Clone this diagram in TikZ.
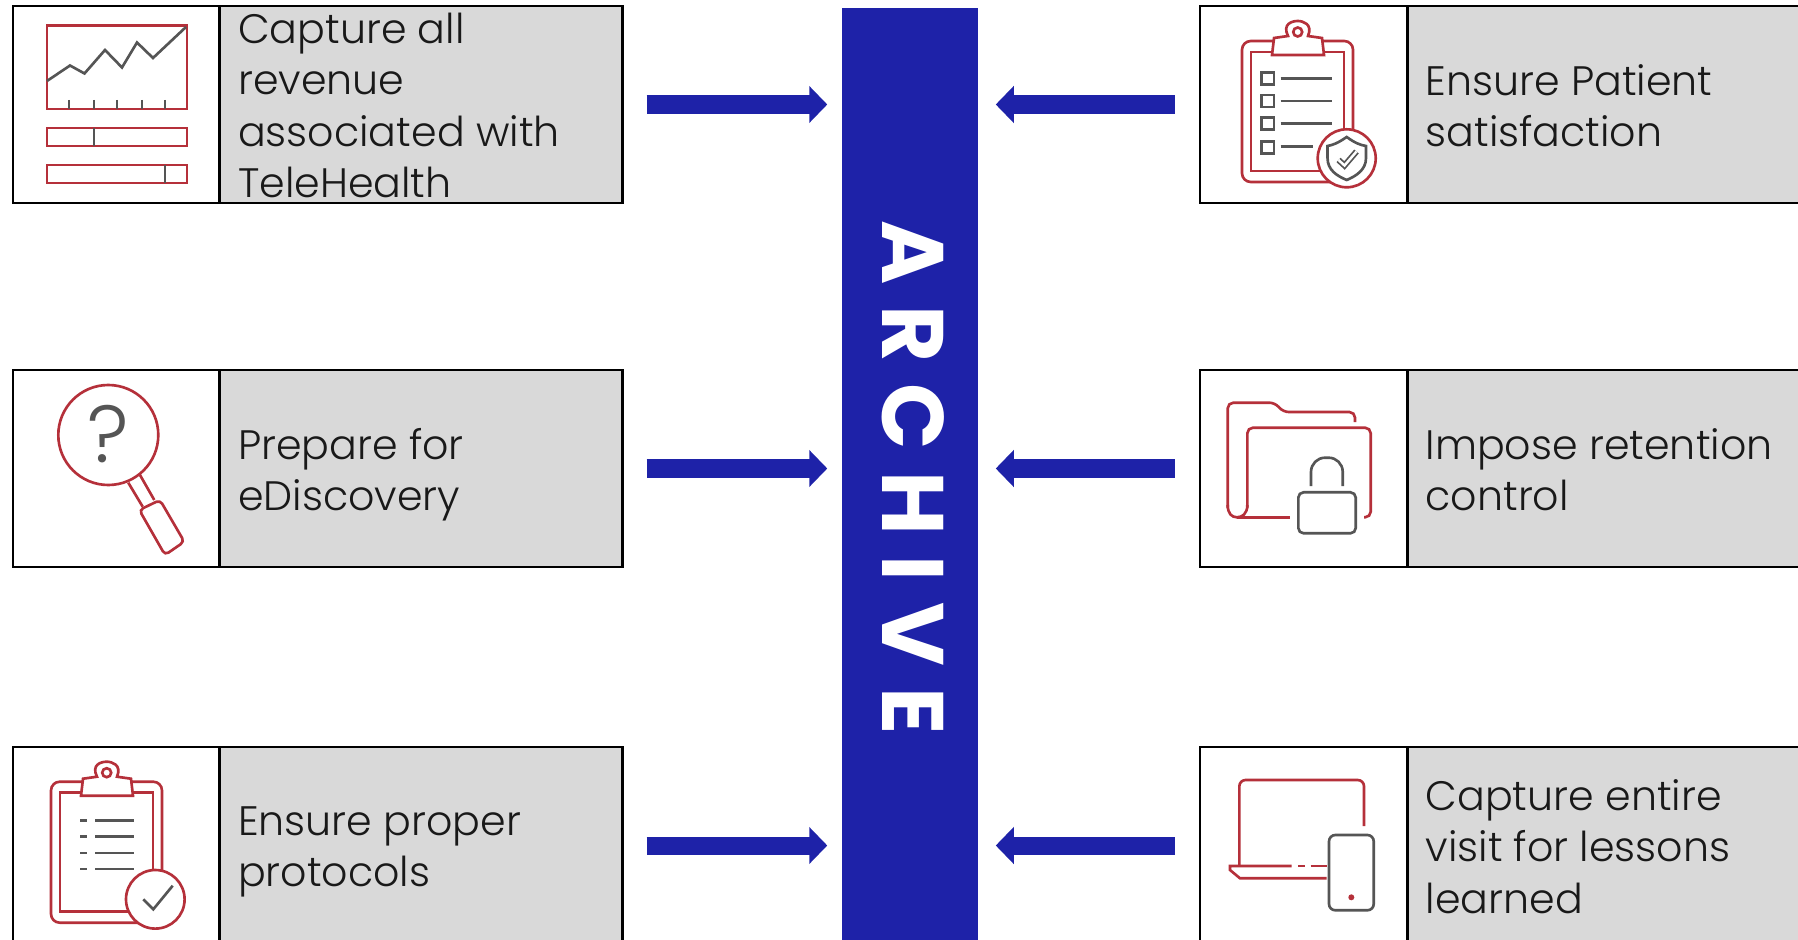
\documentclass[tikz,border=0pt]{standalone}
\usepackage{fontspec}
\setmainfont{Poppins}[UprightFont=* Light,BoldFont=* Bold]
\usetikzlibrary{arrows.meta}
\definecolor{iconred}{HTML}{B5303A}
\definecolor{icondark}{HTML}{555555}
\definecolor{barblue}{HTML}{1E22A8}
\definecolor{cardgray}{HTML}{D9D9D9}
\tikzset{
  iconcard/.style={draw=black, line width=0.8pt, fill=white, inner sep=0pt, minimum width=2.07cm, minimum height=1.97cm},
  textcard/.style={draw=black, line width=0.8pt, fill=cardgray, inner sep=0pt, minimum width=4.02cm, minimum height=1.97cm},
  cardlabel/.style={anchor=west, align=left, inner sep=0pt, xshift=0.19cm, yshift=-0.086cm, font=\fontsize{11.7pt}{14.6pt}\selectfont, text=black!90, execute at begin node=\strut, execute at end node=\strut},
  bigarrow/.style={draw=barblue, line width=0.18cm, -{Triangle[length=0.18cm, width=0.36cm]}, shorten <=0.23cm, shorten >=0.14cm},
  redline/.style={draw=iconred, line width=0.75pt},
  darkline/.style={draw=icondark, line width=0.75pt},
  clipboard/.pic={
    \draw[redline, rounded corners=2.5pt] (52,41) rectangle (163,182);
    \draw[redline] (61,52) rectangle (154,171);
    \draw[redline, fill=white] (82,55) -- (84,38) -- (98,36) .. controls (92,24) and (102,21) .. (107.7,21) .. controls (113,21) and (123,24) .. (118,36) -- (132,38) -- (134,55) -- cycle;
    \draw[redline] (107.7,32) circle[radius=4.5];
  },
}
\begin{document}
\begin{tikzpicture}[x=0.01cm, y=-0.01cm]
  \useasboundingbox (0,0) rectangle (1798,940);
  \clip (0,0) rectangle (1798,940);

  % central bar
  \node[fill=barblue, inner sep=0pt, minimum width=1.36cm, minimum height=9.32cm] (archive) at (910,474) {};
  \node[rotate=-90, text=white, inner sep=0pt, font=\fontsize{24.8pt}{28pt}\selectfont\bfseries] (archivetext) at (913,477.5) {A\hspace{6pt}R\hspace{6pt}C\hspace{6pt}H\hspace{6pt}I\hspace{6pt}V\hspace{6pt}E};

  % left column
  \node[iconcard] (revicon) at (116.5,104.5) {};
  \node[textcard] (revtext) at (421,104.5) {};
  \node[cardlabel] (revlabel) at (revtext.west) {Capture all\\revenue\\associated with\\TeleHealth};
  \node[iconcard] (discicon) at (116.5,468.5) {};
  \node[textcard] (disctext) at (421,468.5) {};
  \node[cardlabel] (disclabel) at (disctext.west) {Prepare for\\eDiscovery};
  \node[iconcard] (protoicon) at (116.5,845.5) {};
  \node[textcard] (prototext) at (421,845.5) {};
  \node[cardlabel] (protolabel) at (prototext.west) {Ensure proper\\protocols};

  % right column
  \node[iconcard] (paticon) at (1303.5,104.5) {};
  \node[textcard] (pattext) at (1608.5,104.5) {};
  \node[cardlabel] (patlabel) at (pattext.west) {Ensure Patient\\satisfaction};
  \node[iconcard] (reticon) at (1303.5,468.5) {};
  \node[textcard] (rettext) at (1608.5,468.5) {};
  \node[cardlabel] (retlabel) at (rettext.west) {Impose retention\\control};
  \node[iconcard] (visiticon) at (1303.5,845.5) {};
  \node[textcard] (visittext) at (1608.5,845.5) {};
  \node[cardlabel] (visitlabel) at (visittext.west) {Capture entire\\visit for lessons\\learned};

  % arrows
  \draw[bigarrow] (revtext.east) -- (revtext.east -| archive.west);
  \draw[bigarrow] (disctext.east) -- (disctext.east -| archive.west);
  \draw[bigarrow] (prototext.east) -- (prototext.east -| archive.west);
  \draw[bigarrow, shorten >=0.17cm, shorten <=0.24cm] (paticon.west) -- (paticon.west -| archive.east);
  \draw[bigarrow, shorten >=0.17cm, shorten <=0.24cm] (reticon.west) -- (reticon.west -| archive.east);
  \draw[bigarrow, shorten >=0.17cm, shorten <=0.24cm] (visiticon.west) -- (visiticon.west -| archive.east);

  % chart icon
  \draw[redline] (47,25.6) rectangle (187,109);
  \draw[redline] (47,128) rectangle (187,146);
  \draw[redline] (47,165) rectangle (187,183);
  \draw[darkline] (47,81) -- (70,65.5) -- (84.5,73.5) -- (105,50) -- (122,67.5) -- (137,42.5) -- (153,58) -- (186,27);
  \foreach \x in {69,94,117,142,165}
    \draw[darkline] (\x,100) -- (\x,109);
  \draw[darkline] (94,128) -- (94,146);
  \draw[darkline] (165,165) -- (165,183);

  % magnifier icon
  \draw[redline] (108.3,435) circle[radius=50];
  \node[text=icondark, inner sep=0pt, font=\fontsize{23pt}{26pt}\selectfont] (question) at (108.5,434) {?};
  \draw[redline] (128.3,482.7) -- (142.7,506.7);
  \draw[redline] (140,475) -- (154.3,500);
  \draw[redline, rounded corners=1.2pt] (139.3,510) -- (160,500) -- (184.3,541.7) -- (165,555) -- cycle;

  % clipboard with checkmark
  \pic at (-1,740.7) {clipboard};
  \foreach \y in {820.3,836.7,853,869} {
    \draw[darkline] (80,\y) -- (86.7,\y);
    \draw[darkline] (95,\y) -- (134,\y);
  }
  \draw[redline, fill=white] (155.3,899.3) circle[radius=29.3];
  \draw[darkline] (143.3,899.3) -- (153.3,909.3) -- (172.7,885.7);

  % clipboard with shield
  \begin{scope}[shift={(1190,0)}]
    \pic at (0,0) {clipboard};
    \foreach \y in {72.3,95,117.7,141.3}
      \draw[darkline] (71.7,\y) rectangle ++(12.3,12);
    \foreach \y in {78.3,101,123.3}
      \draw[darkline] (90.7,\y) -- (142.3,\y);
    \draw[darkline] (90.7,146.7) -- (123.3,146.7);
    \draw[redline, fill=white] (156.7,158.3) circle[radius=29];
    \draw[darkline] (156.7,137) .. controls (148,143) and (143,145) .. (137.5,146) -- (137.5,158) .. controls (137.5,170) and (147,176) .. (156.7,180) .. controls (166,176) and (176,170) .. (176,158) -- (176,146) .. controls (170,145) and (165,143) .. (156.7,137) -- cycle;
    \draw[darkline, line width=0.5pt, double=white, double distance=0.7pt] (148.5,160) -- (154.5,165.5) -- (166.5,151.5);
  \end{scope}

  % folder with lock
  \begin{scope}[shift={(1190,0)}]
    \draw[redline, rounded corners=1.6pt] (165,422) -- (165,412) -- (93,412) -- (85,402.7) -- (37.7,402.7) -- (37.7,508);
    \draw[redline] (37.7,505) .. controls (37.7,514) and (42,517.3) .. (47,517.3) .. controls (52,517.3) and (57.3,514) .. (57.3,505);
    \draw[redline] (47,517.3) -- (100,517.3);
    \draw[redline, rounded corners=1.6pt] (57.3,508) -- (57.3,427.7) -- (180.7,427.7) -- (180.7,517.3) -- (174,517.3);
    \draw[darkline, rounded corners=4pt] (121,486) -- (121,457.7) -- (152.7,457.7) -- (152.7,486);
    \draw[darkline, rounded corners=1.5pt] (108.3,492.3) rectangle (165.7,533.3);
  \end{scope}

  % laptop and phone
  \begin{scope}[shift={(1190,0)}]
    \draw[redline, rounded corners=1.8pt] (49.3,866) -- (49.3,780) -- (174,780) -- (174,826);
    \draw[redline] (101.7,866) -- (40,866) -- (40,870) -- (50,878.3) -- (136.7,878.3);
    \draw[redline] (108.3,866) -- (115,866);
    \draw[redline] (120.7,866) -- (136.7,866);
    \draw[darkline, rounded corners=1.8pt] (139,835) rectangle (183.7,910.3);
    \fill[iconred] (161.3,897.3) circle[radius=3];
  \end{scope}
\end{tikzpicture}
\end{document}
